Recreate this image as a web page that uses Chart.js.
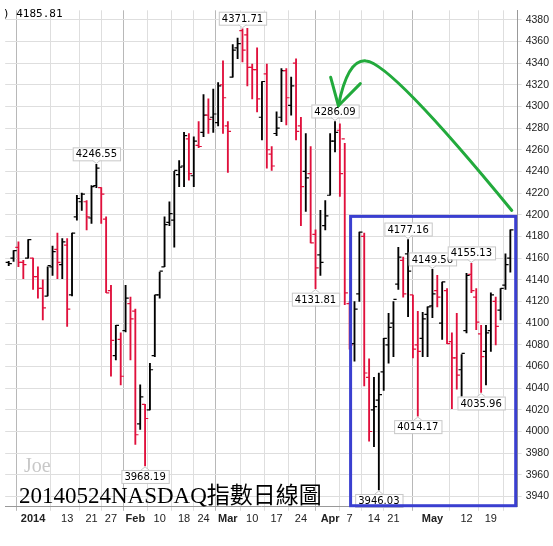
<!DOCTYPE html>
<html>
<head>
<meta charset="utf-8">
<script src="https://cdn.jsdelivr.net/npm/chart.js@4.4.1/dist/chart.umd.min.js"></script>
<style>
  html, body { margin: 0; padding: 0; background: #fff; }
  #wrap { width: 553px; height: 546px; }
</style>
</head>
<body>
<div id="wrap"><canvas id="chart" width="553" height="546"></canvas></div>
<script>
// Daily NASDAQ bars, Dec 24 2013 .. May 23 2014
const dates = ['12/24','12/26','12/27','12/30','12/31',
  '1/2','1/3','1/6','1/7','1/8','1/9','1/10','1/13','1/14','1/15','1/16','1/17','1/21','1/22','1/23','1/24','1/27','1/28','1/29','1/30','1/31',
  '2/3','2/4','2/5','2/6','2/7','2/10','2/11','2/12','2/13','2/14','2/18','2/19','2/20','2/21','2/24','2/25','2/26','2/27','2/28',
  '3/3','3/4','3/5','3/6','3/7','3/10','3/11','3/12','3/13','3/14','3/17','3/18','3/19','3/20','3/21','3/24','3/25','3/26','3/27','3/28','3/31',
  '4/1','4/2','4/3','4/4','4/7','4/8','4/9','4/10','4/11','4/14','4/15','4/16','4/17','4/21','4/22','4/23','4/24','4/25','4/28','4/29','4/30',
  '5/1','5/2','5/5','5/6','5/7','5/8','5/9','5/12','5/13','5/14','5/15','5/16','5/19','5/20','5/21','5/22','5/23'];

const highs = [4157,4167,4175,4158,4177,
  4160,4152,4140,4152,4171,4183,4178,4178,4183,4218,4220,4213,4227,4246.55,4225,4198,4135,4098,4091,4135,4124,
  4113,4043,4025,4063,4126,4147,4198,4212,4240,4250,4276,4275,4272,4286,4311,4307,4316,4322,4342,
  4286,4357,4363,4371.71,4372,4339,4354,4323,4339,4263,4295,4335,4335,4327,4344,4290,4275,4263,4186,4204,4213,
  4275,4286.09,4284,4266,4120,4120,4184,4183,4067,4050,4054,4086,4109,4120,4170,4161,4177.16,4126,4111,4110,4115,
  4149.56,4144,4138,4132,4091,4109,4071,4146,4155.13,4132,4098,4098,4128,4124,4132,4164,4186];

const lows = [4153,4157,4152,4141,4160,
  4131,4123,4103,4125,4144,4141,4141,4097,4125,4195,4204,4186,4192,4225,4192,4128,4051,4066,4043,4092,4066,
  3988,4002,3968.19,4020,4069,4123,4152,4190,4170,4226,4226,4232,4226,4262,4272,4275,4276,4282,4275,
  4239,4327,4344,4341,4319,4307,4295,4269,4243,4241,4273,4286,4283,4292,4269,4190,4203,4174,4131.81,4144,4186,
  4218,4258,4217,4117,4076,4065,4120,4042,3991,3986,3946.03,4038,4063,4069,4131,4124,4106,4068,4014.17,4069,4069,
  4105,4115,4085,4081,4021,4039,4025,4091,4128,4094,4035.96,4043,4074,4080,4103,4131,4147];

const opens = [4156,4160,4170,4156,4160,
  4160,4143,4132,4125,4152,4168,4154,4172,4126,4198,4212,4212,4197,4227,4225,4196,4130,4070,4085,4093,4118,
  4111,4007,4025,4020,4070,4126,4152,4193,4195,4237,4245,4270,4236,4264,4276,4292,4290,4285,4320,
  4282,4327,4354,4370,4366,4336,4334,4290,4330,4256,4275,4290,4333,4301,4340,4282,4240,4238,4182,4163,4190,
  4218,4268,4278,4270,4118,4081,4127,4180,4050,4020,4029,4055,4080,4100,4136,4158,4164,4126,4080,4086,4108,
  4116,4130,4100,4130,4083,4068,4057,4093,4145,4124,4090,4074,4093,4120,4112,4135,4160];

const closes = [4155,4167,4156,4154,4177,
  4143,4132,4114,4153,4166,4156,4175,4113,4183,4215,4219,4198,4226,4243,4219,4128,4084,4098,4051,4123,4104,
  3997,4032,4012,4057,4126,4148,4191,4201,4241,4244,4273,4238,4268,4263,4292,4288,4293,4319,4308,
  4277,4352,4358,4352,4336,4334,4307,4323,4260,4245,4280,4333,4308,4319,4277,4226,4234,4174,4151,4156,4199,
  4268,4276,4238,4128,4080,4113,4184,4054,4000,4023,4034,4086,4096,4122,4161,4127,4148,4076,4074,4104,4115,
  4127,4124,4138,4081,4068,4052,4072,4144,4130,4101,4069,4091,4126,4097,4132,4154,4186];

// x-axis tick labels: bar index -> text
const tickIdx    = [5, 12, 17, 21, 26, 31, 36, 40, 45, 50, 55, 60, 66, 70, 75, 79, 87, 94, 99];
const tickLabels = ['2014','13','21','27','Feb','10','18','24','Mar','10','17','24','Apr','7','14','21','May','12','19'];
const monthTicks = ['2014','Feb','Mar','Apr','May'];

// highlighted extremes: [bar index, 'up' | 'down']
const callouts = [[18,'up'],[28,'down'],[48,'up'],[67,'up'],[63,'down'],[76,'down'],[82,'up'],[84,'down'],[87,'up'],[95,'up'],[97,'down']];

const RED = '#e0103c';
const BLACK = '#000';
const barColors = closes.map((c, i) => (i > 0 && c < closes[i - 1]) ? RED : BLACK);

const rangeData = highs.map((h, i) => ({ x: i, y: [lows[i], h] }));
const openData = opens.map((o, i) => ({ x: i - 0.32, y: o }));
const closeData = closes.map((c, i) => ({ x: i + 0.32, y: c }));

// overlay drawing: callout boxes, hand drawn marks and captions
const overlayPlugin = {
    id: 'overlay',
    afterDatasetsDraw(chart) {
        const ctx = chart.ctx;
        const xs = chart.scales.x;
        const ys = chart.scales.y;
        ctx.save();

        // callout labels
        ctx.font = '10px "DejaVu Sans", sans-serif';
        ctx.textAlign = 'center';
        ctx.textBaseline = 'middle';
        callouts.forEach(([i, dir]) => {
            const v = dir === 'up' ? highs[i] : lows[i];
            const txt = v.toFixed(2);
            const px = xs.getPixelForValue(i);
            const py = ys.getPixelForValue(v);
            const w = ctx.measureText(txt).width + 6;
            const h = 13;
            const by = dir === 'up' ? py - 4 - h : py + 4;
            ctx.fillStyle = '#fff';
            ctx.strokeStyle = '#c8c8c8';
            ctx.lineWidth = 1;
            ctx.fillRect(px - w / 2, by, w, h);
            ctx.strokeRect(px - w / 2 + 0.5, by + 0.5, w, h);
            ctx.beginPath();
            if (dir === 'up') {
                ctx.moveTo(px - 4, by + h); ctx.lineTo(px, py - 1); ctx.lineTo(px + 4, by + h);
            } else {
                ctx.moveTo(px - 4, by); ctx.lineTo(px, py + 1); ctx.lineTo(px + 4, by);
            }
            ctx.fill();
            ctx.stroke();
            ctx.fillStyle = '#000';
            ctx.fillText(txt, px, by + h / 2 + 1);
        });

        // blue box
        const bx1 = xs.getPixelForValue(70.2), bx2 = xs.getPixelForValue(104.1);
        const by1 = ys.getPixelForValue(4198.5), by2 = ys.getPixelForValue(3931.5);
        ctx.strokeStyle = '#3a3fd0';
        ctx.lineWidth = 3;
        ctx.strokeRect(bx1, by1, bx2 - bx1, by2 - by1);

        // green hand drawn arrow
        const P = (i, v) => [xs.getPixelForValue(i), ys.getPixelForValue(v)];
        ctx.strokeStyle = '#22aa3c';
        ctx.lineWidth = 3;
        ctx.lineCap = 'round';
        ctx.lineJoin = 'round';
        ctx.beginPath();
        let p = P(66.1, 4327); ctx.moveTo(p[0], p[1]);
        p = P(67.7, 4300.6); ctx.lineTo(p[0], p[1]);
        p = P(72.2, 4321); ctx.lineTo(p[0], p[1]);
        ctx.stroke();
        ctx.beginPath();
        p = P(67.7, 4300.6); ctx.moveTo(p[0], p[1]);
        const c1 = P(69.6, 4344), e1 = P(73.4, 4342);
        ctx.quadraticCurveTo(c1[0], c1[1], e1[0], e1[1]);
        const c2 = P(78.5, 4340), e2 = P(103.3, 4204);
        ctx.quadraticCurveTo(c2[0], c2[1], e2[0], e2[1]);
        ctx.stroke();

        // captions
        ctx.textAlign = 'left';
        ctx.textBaseline = 'alphabetic';
        ctx.fillStyle = '#000';
        ctx.font = '11px "DejaVu Sans Mono", monospace';
        ctx.fillText(') 4185.81', 3, 17);
        ctx.fillStyle = '#c8c8c8';
        ctx.font = '20px "Liberation Serif", serif';
        ctx.fillText('Joe', 24, 472);
        ctx.fillStyle = '#000';
        ctx.font = '23px "Liberation Serif", "Noto Sans CJK TC", serif';
        ctx.fillText('20140524NASDAQ指數日線圖', 19, 503);
        ctx.restore();
    }
};

function initChart() {
    const ctx = document.getElementById('chart').getContext('2d');
    new Chart(ctx, {
        type: 'bar',
        data: {
            datasets: [{
                data: rangeData,
                backgroundColor: barColors,
                barThickness: 1.2,
                grouped: false,
                order: 2
            }, {
                type: 'line',
                data: openData,
                showLine: false,
                pointStyle: 'line',
                pointRadius: 1.6,
                pointBorderWidth: 1.2,
                pointBorderColor: barColors,
                order: 1
            }, {
                type: 'line',
                data: closeData,
                showLine: false,
                pointStyle: 'line',
                pointRadius: 1.6,
                pointBorderWidth: 1.2,
                pointBorderColor: barColors,
                order: 1
            }]
        },
        options: {
            responsive: false,
            animation: false,
            layout: { padding: { left: 2, top: 5, right: 0, bottom: 18 } },
            plugins: { legend: { display: false }, tooltip: { enabled: false } },
            scales: {
                x: {
                    type: 'linear',
                    min: -0.72,
                    max: 104.5,
                    offset: false,
                    afterBuildTicks: axis => { axis.ticks = tickIdx.map(v => ({ value: v })); },
                    ticks: {
                        autoSkip: false,
                        maxRotation: 0,
                        padding: 2,
                        color: '#222',
                        callback: v => tickLabels[tickIdx.indexOf(v)],
                        font: ctx => ({
                            family: 'Arial, "Liberation Sans", sans-serif',
                            size: 11,
                            weight: (ctx.tick && monthTicks.includes(tickLabels[tickIdx.indexOf(ctx.tick.value)])) ? 'bold' : 'normal'
                        })
                    },
                    grid: {
                        color: ctx => (ctx.tick && monthTicks.includes(tickLabels[tickIdx.indexOf(ctx.tick.value)])) ? '#b8b8b8' : '#dedede',
                        tickLength: 4
                    },
                    border: { color: '#999' }
                },
                y: {
                    position: 'right',
                    min: 3930.5,
                    max: 4388.7,
                    ticks: {
                        stepSize: 20,
                        color: '#222',
                        padding: 4,
                        font: { family: 'Arial, "Liberation Sans", sans-serif', size: 10.5 },
                        callback: v => (v >= 3940 && v <= 4380) ? v : ''
                    },
                    afterBuildTicks: axis => {
                        const t = [];
                        for (let v = 3940; v <= 4380; v += 20) t.push({ value: v });
                        axis.ticks = t;
                    },
                    grid: { color: '#dedede', tickLength: 4 },
                    border: { color: '#999' }
                }
            }
        },
        plugins: [overlayPlugin]
    });
}

initChart();
</script>
</body>
</html>
